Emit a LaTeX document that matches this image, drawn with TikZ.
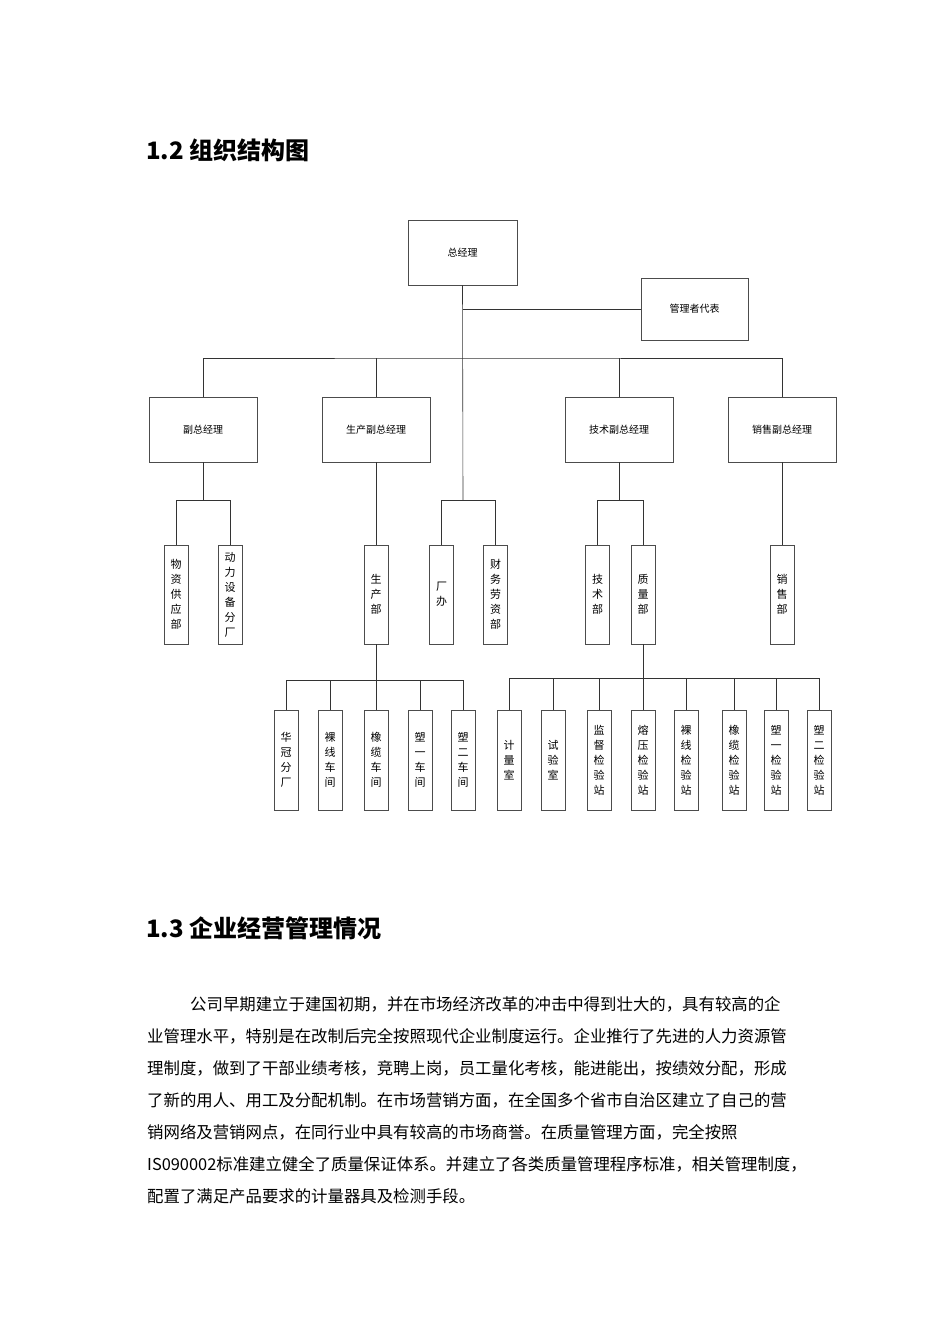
\documentclass[tikz,border=0pt]{standalone}
\usepackage{fontspec}
\newfontfamily\cjk{Noto Sans CJK SC}
\begin{document}
\begin{tikzpicture}[x=1pt,y=-1pt,
  box/.style={draw=black!70,line width=0.6pt,font=\cjk\fontsize{10}{12}\selectfont,inner sep=0pt},
  vb/.style={box,minimum width=24pt,minimum height=99pt,align=center,font=\cjk\fontsize{11}{15}\selectfont},
  vc/.style={vb,minimum height=100pt},
  ln/.style={line width=0.6pt,black!80},
  hd/.style={anchor=west,inner sep=0pt,font=\cjk\bfseries\fontsize{24}{26}\selectfont},
  para/.style={anchor=west,inner sep=0pt,font=\cjk\fontsize{16.4}{16}\selectfont}]
\useasboundingbox (0,0) rectangle (950,1344);
\node[hd] (h1) at (146,150) {1.2 组织结构图};
\node[hd] (h2) at (146,928) {1.3 企业经营管理情况};
% top
\node[box,minimum width=109pt,minimum height=65pt] (ceo) at (462.5,252.5) {总经理};
\node[box,minimum width=107pt,minimum height=62pt] (rep) at (694.5,309) {管理者代表};
\node[box,minimum width=108pt,minimum height=65pt] (v1) at (203,429.5) {副总经理};
\node[box,minimum width=108pt,minimum height=65pt] (v2) at (376,429.5) {生产副总经理};
\node[box,minimum width=108pt,minimum height=65pt] (v3) at (619,429.5) {技术副总经理};
\node[box,minimum width=108pt,minimum height=65pt] (v4) at (782,429.5) {销售副总经理};
% departments
\node[vb] (d1) at (176,594.5) {物\\资\\供\\应\\部};
\node[vb] (d2) at (230,594.5) {动\\力\\设\\备\\分\\厂};
\node[vb] (d3) at (376,594.5) {生\\产\\部};
\node[vb] (d4) at (441.5,594.5) {厂\\办};
\node[vb] (d5) at (495.5,594.5) {财\\务\\劳\\资\\部};
\node[vb] (d6) at (597.5,594.5) {技\\术\\部};
\node[vb] (d7) at (643,594.5) {质\\量\\部};
\node[vb] (d8) at (782,594.5) {销\\售\\部};
% workshops
\foreach \n/\x/\t in {p1/286/华\\冠\\分\\厂, p2/330/裸\\线\\车\\间, p3/376/橡\\缆\\车\\间, p4/420/塑\\一\\车\\间, p5/463/塑\\二\\车\\间,
  q1/509/计\\量\\室, q2/553/试\\验\\室, q3/599/监\\督\\检\\验\\站, q4/643/熔\\压\\检\\验\\站, q5/686/裸\\线\\检\\验\\站,
  q6/734/橡\\缆\\检\\验\\站, q7/776/塑\\一\\检\\验\\站, q8/819/塑\\二\\检\\验\\站}
  \node[vc] (\n) at (\x,760) {\t};
% connectors
\coordinate (b1) at (463,309);
\coordinate (b2) at (463,358);
\coordinate (b3) at (463,500);
\draw[ln] (ceo.south) -- (b3);
\draw[ln] (b1) -- (rep.west);
\draw[ln] (v1.north) |- (b2) -| (v4.north);
\draw[ln] (v2.north) -- (v2.north|-b2);
\draw[ln] (v3.north) -- (v3.north|-b2);
\draw[ln] (b3) -| (d4.north); \draw[ln] (b3) -| (d5.north);
\draw[ln] (v1.south) -- ++(0,38) coordinate (c1);
\draw[ln] (c1) -| (d1.north); \draw[ln] (c1) -| (d2.north);
\draw[ln] (v2.south) -- (d3.north);
\draw[ln] (v3.south) -- ++(0,38) coordinate (c3);
\draw[ln] (c3) -| (d6.north); \draw[ln] (c3) -| (d7.north);
\draw[ln] (v4.south) -- (d8.north);
\draw[ln] (d3.south) -- ++(0,36) coordinate (c4);
\foreach \n in {p1,p2,p3,p4,p5} \draw[ln] (c4) -| (\n.north);
\draw[ln] (d7.south) -- ++(0,34) coordinate (c5);
\foreach \n in {q1,q2,q3,q4,q5,q6,q7,q8} \draw[ln] (c5) -| (\n.north);
% paragraph
\node[para] (l1) at (190,1004) {公司早期建立于建国初期，并在市场经济改革的冲击中得到壮大的，具有较高的企};
\node[para] (l2) at (147,1036) {业管理水平，特别是在改制后完全按照现代企业制度运行。企业推行了先进的人力资源管};
\node[para] (l3) at (147,1068) {理制度，做到了干部业绩考核，竞聘上岗，员工量化考核，能进能出，按绩效分配，形成};
\node[para] (l4) at (147,1100) {了新的用人、用工及分配机制。在市场营销方面，在全国多个省市自治区建立了自己的营};
\node[para] (l5) at (147,1132) {销网络及营销网点，在同行业中具有较高的市场商誉。在质量管理方面，完全按照};
\node[para] (l6) at (147,1164) {IS090002标准建立健全了质量保证体系。并建立了各类质量管理程序标准，相关管理制度，};
\node[para] (l7) at (147,1196) {配置了满足产品要求的计量器具及检测手段。};
\end{tikzpicture}
\end{document}
